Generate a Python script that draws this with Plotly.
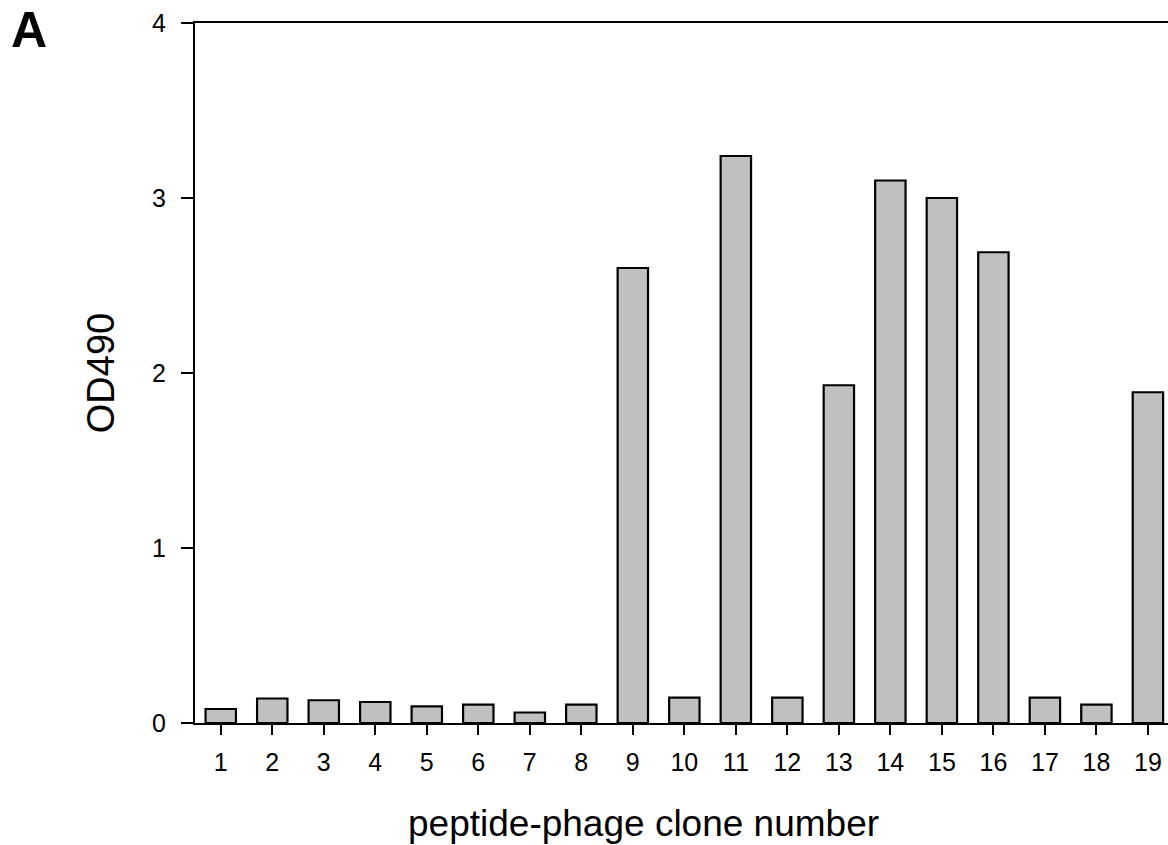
import plotly.graph_objects as go

clones = list(range(1, 20))
od490 = [0.08, 0.14, 0.13, 0.12, 0.095, 0.105, 0.06, 0.105, 2.60, 0.145,
         3.24, 0.145, 1.93, 3.10, 3.00, 2.69, 0.145, 0.105, 1.89]
y_ticks = [0, 1, 2, 3, 4]

FONT = "Liberation Sans, Arial, sans-serif"
W, H = 1168, 845
ML, MR, MT, MB = 195, 0, 23, 122
PW, PH = W - ML - MR, H - MT - MB

fig = go.Figure()
fig.add_trace(go.Bar(
    x=clones, y=od490,
    marker=dict(color="#c0c0c0", line=dict(color="black", width=2.2)),
    width=0.59,
))

fig.update_layout(
    width=W, height=H,
    margin=dict(l=ML, r=MR, t=MT, b=MB),
    plot_bgcolor="white", paper_bgcolor="white",
    showlegend=False,
    font=dict(family=FONT, color="black"),
    xaxis=dict(
        range=[0.5, 19.39],
        tickmode="array", tickvals=clones, ticktext=[str(c) for c in clones],
        ticks="outside", ticklen=10, tickwidth=2, tickcolor="black",
        showline=True, linecolor="black", linewidth=2, mirror=True,
        showgrid=False, zeroline=False,
        tickfont=dict(size=25, family=FONT),
        ticklabelstandoff=6,
    ),
    yaxis=dict(
        range=[0, 4],
        tickmode="array", tickvals=y_ticks, ticktext=[str(v) for v in y_ticks],
        ticks="outside", ticklen=12, tickwidth=2, tickcolor="black",
        showline=True, linecolor="black", linewidth=2,
        showgrid=False, zeroline=False,
        tickfont=dict(size=25, family=FONT),
        ticklabelstandoff=10,
        title=dict(text="OD490", font=dict(size=38, family=FONT), standoff=26),
    ),
)

# x-axis title (centred where the original places it)
fig.add_annotation(
    text="peptide-phage clone number",
    x=(643 - ML) / PW, y=-(823 - (MT + PH)) / PH,
    xref="paper", yref="paper", showarrow=False,
    font=dict(size=37, family=FONT, color="black"),
    xanchor="center", yanchor="middle",
)

# panel label
fig.add_annotation(
    text="<b>A</b>",
    x=(9 - ML) / PW, y=(MT + PH) / PH,
    xref="paper", yref="paper",
    showarrow=False, font=dict(size=50, family=FONT, color="black"),
    xanchor="left", yanchor="top",
)

fig.write_html(
    "out.html",
    config={"displayModeBar": False},
    post_script="document.body.style.margin='0';document.body.style.overflow='hidden';",
)
